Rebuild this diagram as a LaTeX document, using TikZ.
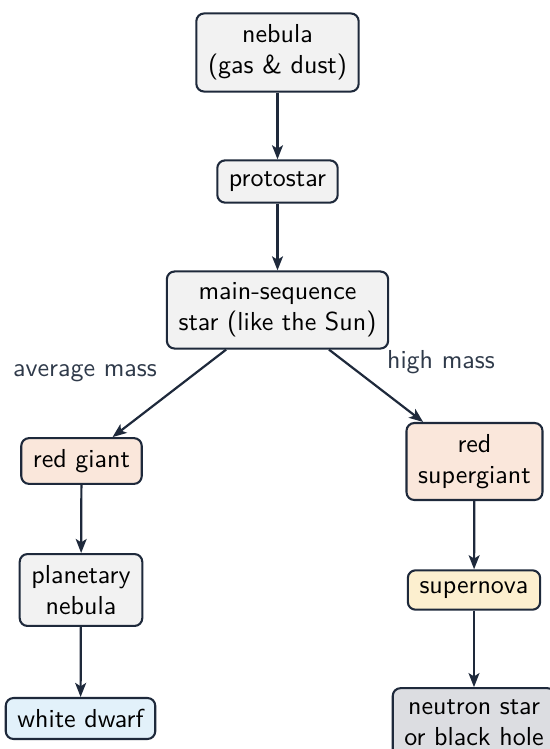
\documentclass[tikz,border=0pt]{standalone}
\usetikzlibrary{arrows.meta}
\definecolor{edge}{HTML}{1E293B}
\definecolor{labeltext}{HTML}{2F3A4A}
\definecolor{greyfill}{HTML}{F2F2F2}
\definecolor{redfill}{HTML}{FAE7DB}
\definecolor{novafill}{HTML}{FCEFCF}
\definecolor{dwarffill}{HTML}{E2F1FA}
\definecolor{remnantfill}{HTML}{DCDDE1}
\tikzset{
  stage/.style={draw=edge, line width=0.8pt, rounded corners=3pt, align=center,
    inner xsep=4.5pt, inner ysep=4.3pt, font=\sffamily\fontsize{10}{12}\selectfont, text=black},
  flow/.style={draw=edge, line width=0.85pt, -{Stealth[length=5.4pt,width=4.2pt,inset=1.3pt]}},
  branch/.style={font=\sffamily\fontsize{10}{12}\selectfont, text=labeltext}
}
\begin{document}
\begin{tikzpicture}[x=0.3846pt, y=-0.3846pt]
  \useasboundingbox (0,0) rectangle (550,749);
  % stages of stellar evolution
  \node[stage, fill=greyfill] (nebula) at (277.5,52.5) {nebula\\(gas \& dust)};
  \node[stage, fill=greyfill] (proto) at (277.5,181.5) {protostar};
  \node[stage, fill=greyfill] (main) at (277.5,310) {main-sequence\\star (like the Sun)};
  \node[stage, fill=redfill] (giant) at (81.5,461) {red giant};
  \node[stage, fill=greyfill] (planetary) at (81,590) {planetary\\nebula};
  \node[stage, fill=dwarffill] (dwarf) at (80.5,718.5) {white dwarf};
  \node[stage, fill=redfill] (supergiant) at (474.5,461.5) {red\\supergiant};
  \node[stage, fill=novafill] (nova) at (474,590) {supernova};
  \node[stage, fill=remnantfill] (remnant) at (474,722.5) {neutron star\\or black hole};
  % branch labels
  \node[branch] (avg) at (85,373) {average mass};
  \node[branch] (high) at (441,362) {high mass};
  % transitions
  \draw[flow] (nebula) -- (proto);
  \draw[flow] (proto) -- (main);
  \draw[flow] (main) -- (giant);
  \draw[flow] (main) -- (supergiant);
  \draw[flow] (giant) -- (planetary);
  \draw[flow] (planetary) -- (dwarf);
  \draw[flow] (supergiant) -- (nova);
  \draw[flow] (nova) -- (remnant);
\end{tikzpicture}
\end{document}
